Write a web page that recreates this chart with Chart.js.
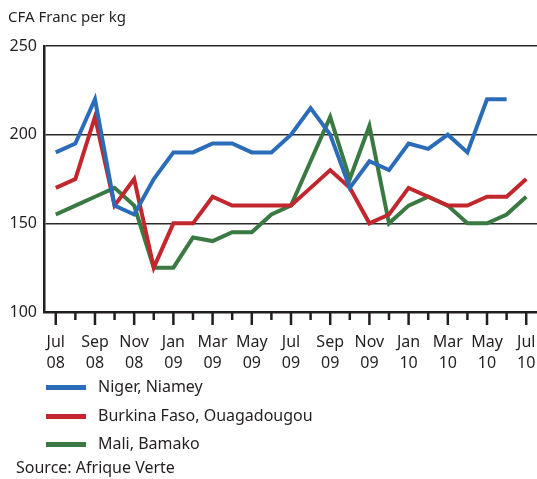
<!DOCTYPE html>
<html>
<head>
<meta charset="utf-8">
<script src="https://cdn.jsdelivr.net/npm/chart.js@4"></script>
<style>
  html, body { margin: 0; padding: 0; background: #fff; }
  body { width: 537px; height: 479px; position: relative; overflow: hidden; font-family: "Noto Sans", sans-serif; color: #231f20; }
  #wrap { position: absolute; left: 0; top: 0; width: 537px; height: 479px; }
  .txt { position: absolute; font-size: 16px; white-space: nowrap; }
  .legend-row { position: absolute; left: 46px; height: 20px; }
  .legend-row span.sw { position: absolute; left: 0; top: 8px; width: 40px; height: 5px; }
  .legend-row span.lb { position: absolute; left: 52px; top: -2px; font-size: 16px; white-space: nowrap; }
</style>
</head>
<body>
<div id="wrap"><canvas id="chart" width="537" height="479"></canvas></div>
<div class="txt" style="left:8px; top:6px; font-size:15px;">CFA Franc per kg</div>
<div class="legend-row" style="top:377px;"><span class="sw" style="background:#2b6cb8"></span><span class="lb">Niger, Niamey</span></div>
<div class="legend-row" style="top:406px;"><span class="sw" style="background:#c1272d"></span><span class="lb">Burkina Faso, Ouagadougou</span></div>
<div class="legend-row" style="top:434px;"><span class="sw" style="background:#3a7a42"></span><span class="lb">Mali, Bamako</span></div>
<div class="txt" style="left:16px; top:456px;">Source: Afrique Verte</div>
<script>
// monthly categories, Jul 08 .. Jul 10
const months = ['Jul 08','Aug 08','Sep 08','Oct 08','Nov 08','Dec 08','Jan 09','Feb 09','Mar 09','Apr 09','May 09','Jun 09',
                'Jul 09','Aug 09','Sep 09','Oct 09','Nov 09','Dec 09','Jan 10','Feb 10','Mar 10','Apr 10','May 10','Jun 10','Jul 10'];
const niger   = [190,195,220,160,155,175,190,190,195,195,190,190,200,215,200,170,185,180,195,192,200,190,220,220,null];
const burkina = [170,175,210,160,175,125,150,150,165,160,160,160,160,170,180,170,150,155,170,165,160,160,165,165,175];
const mali    = [155,160,165,170,160,125,125,142,140,145,145,155,160,185,210,175,205,150,160,165,160,150,150,155,165];
const yTicks  = [100,150,200,250];

const ink = '#231f20';

function toPoints(vals) {
    return vals.map((v, i) => ({ x: i, y: v }));
}

// short/long tick marks under the x axis
const tickMarks = {
    id: 'tickMarks',
    afterDraw(chart) {
        const xs = chart.scales.x;
        const ctx = chart.ctx;
        const y0 = chart.chartArea.bottom;
        ctx.save();
        ctx.strokeStyle = ink;
        ctx.lineWidth = 2.5;
        months.forEach((m, i) => {
            const x = xs.getPixelForValue(i);
            ctx.beginPath();
            ctx.moveTo(x, y0);
            ctx.lineTo(x, y0 + (i % 2 === 0 ? 13 : 8));
            ctx.stroke();
        });
        ctx.restore();
    }
};

new Chart(document.getElementById('chart').getContext('2d'), {
    type: 'line',
    data: {
        datasets: [
            { label: 'Niger, Niamey', data: toPoints(niger), borderColor: '#2b6cb8' },
            { label: 'Burkina Faso, Ouagadougou', data: toPoints(burkina), borderColor: '#c1272d' },
            { label: 'Mali, Bamako', data: toPoints(mali), borderColor: '#3a7a42' }
        ].map(d => Object.assign(d, { borderWidth: 4, pointRadius: 0, tension: 0, fill: false, spanGaps: false }))
    },
    options: {
        responsive: false,
        animation: false,
        layout: { padding: { top: 46, left: 0, right: 0, bottom: 0 } },
        plugins: { legend: { display: false }, tooltip: { enabled: false } },
        scales: {
            x: {
                type: 'linear',
                min: -0.6,
                max: 24.55,
                afterFit: s => { s.height = 479 - 312; s.paddingLeft = 0; s.paddingRight = 0; },
                grid: { display: true, drawOnChartArea: false, drawTicks: false },
                border: { display: true, color: ink, width: 2.5 },
                afterBuildTicks: s => { s.ticks = months.map((m, i) => ({ value: i })); },
                ticks: {
                    autoSkip: false,
                    maxRotation: 0,
                    padding: 20,
                    color: ink,
                    font: { family: 'Noto Sans', size: 16, lineHeight: 1.3 },
                    callback: (v) => (Number.isInteger(v) && v % 2 === 0) ? months[v].split(' ') : ''
                }
            },
            y: {
                min: 100,
                max: 250,
                afterFit: s => { s.width = 44; },
                afterBuildTicks: s => { s.ticks = yTicks.map(v => ({ value: v })); },
                grid: {
                    drawTicks: false,
                    color: c => c.tick.value === 100 ? 'rgba(0,0,0,0)' : '#2a2a2a',
                    lineWidth: 1.6
                },
                border: { display: true, color: ink, width: 2.5 },
                ticks: {
                    padding: 7,
                    color: ink,
                    font: { family: 'Noto Sans', size: 16 }
                }
            }
        }
    },
    plugins: [tickMarks]
});
</script>
</body>
</html>
